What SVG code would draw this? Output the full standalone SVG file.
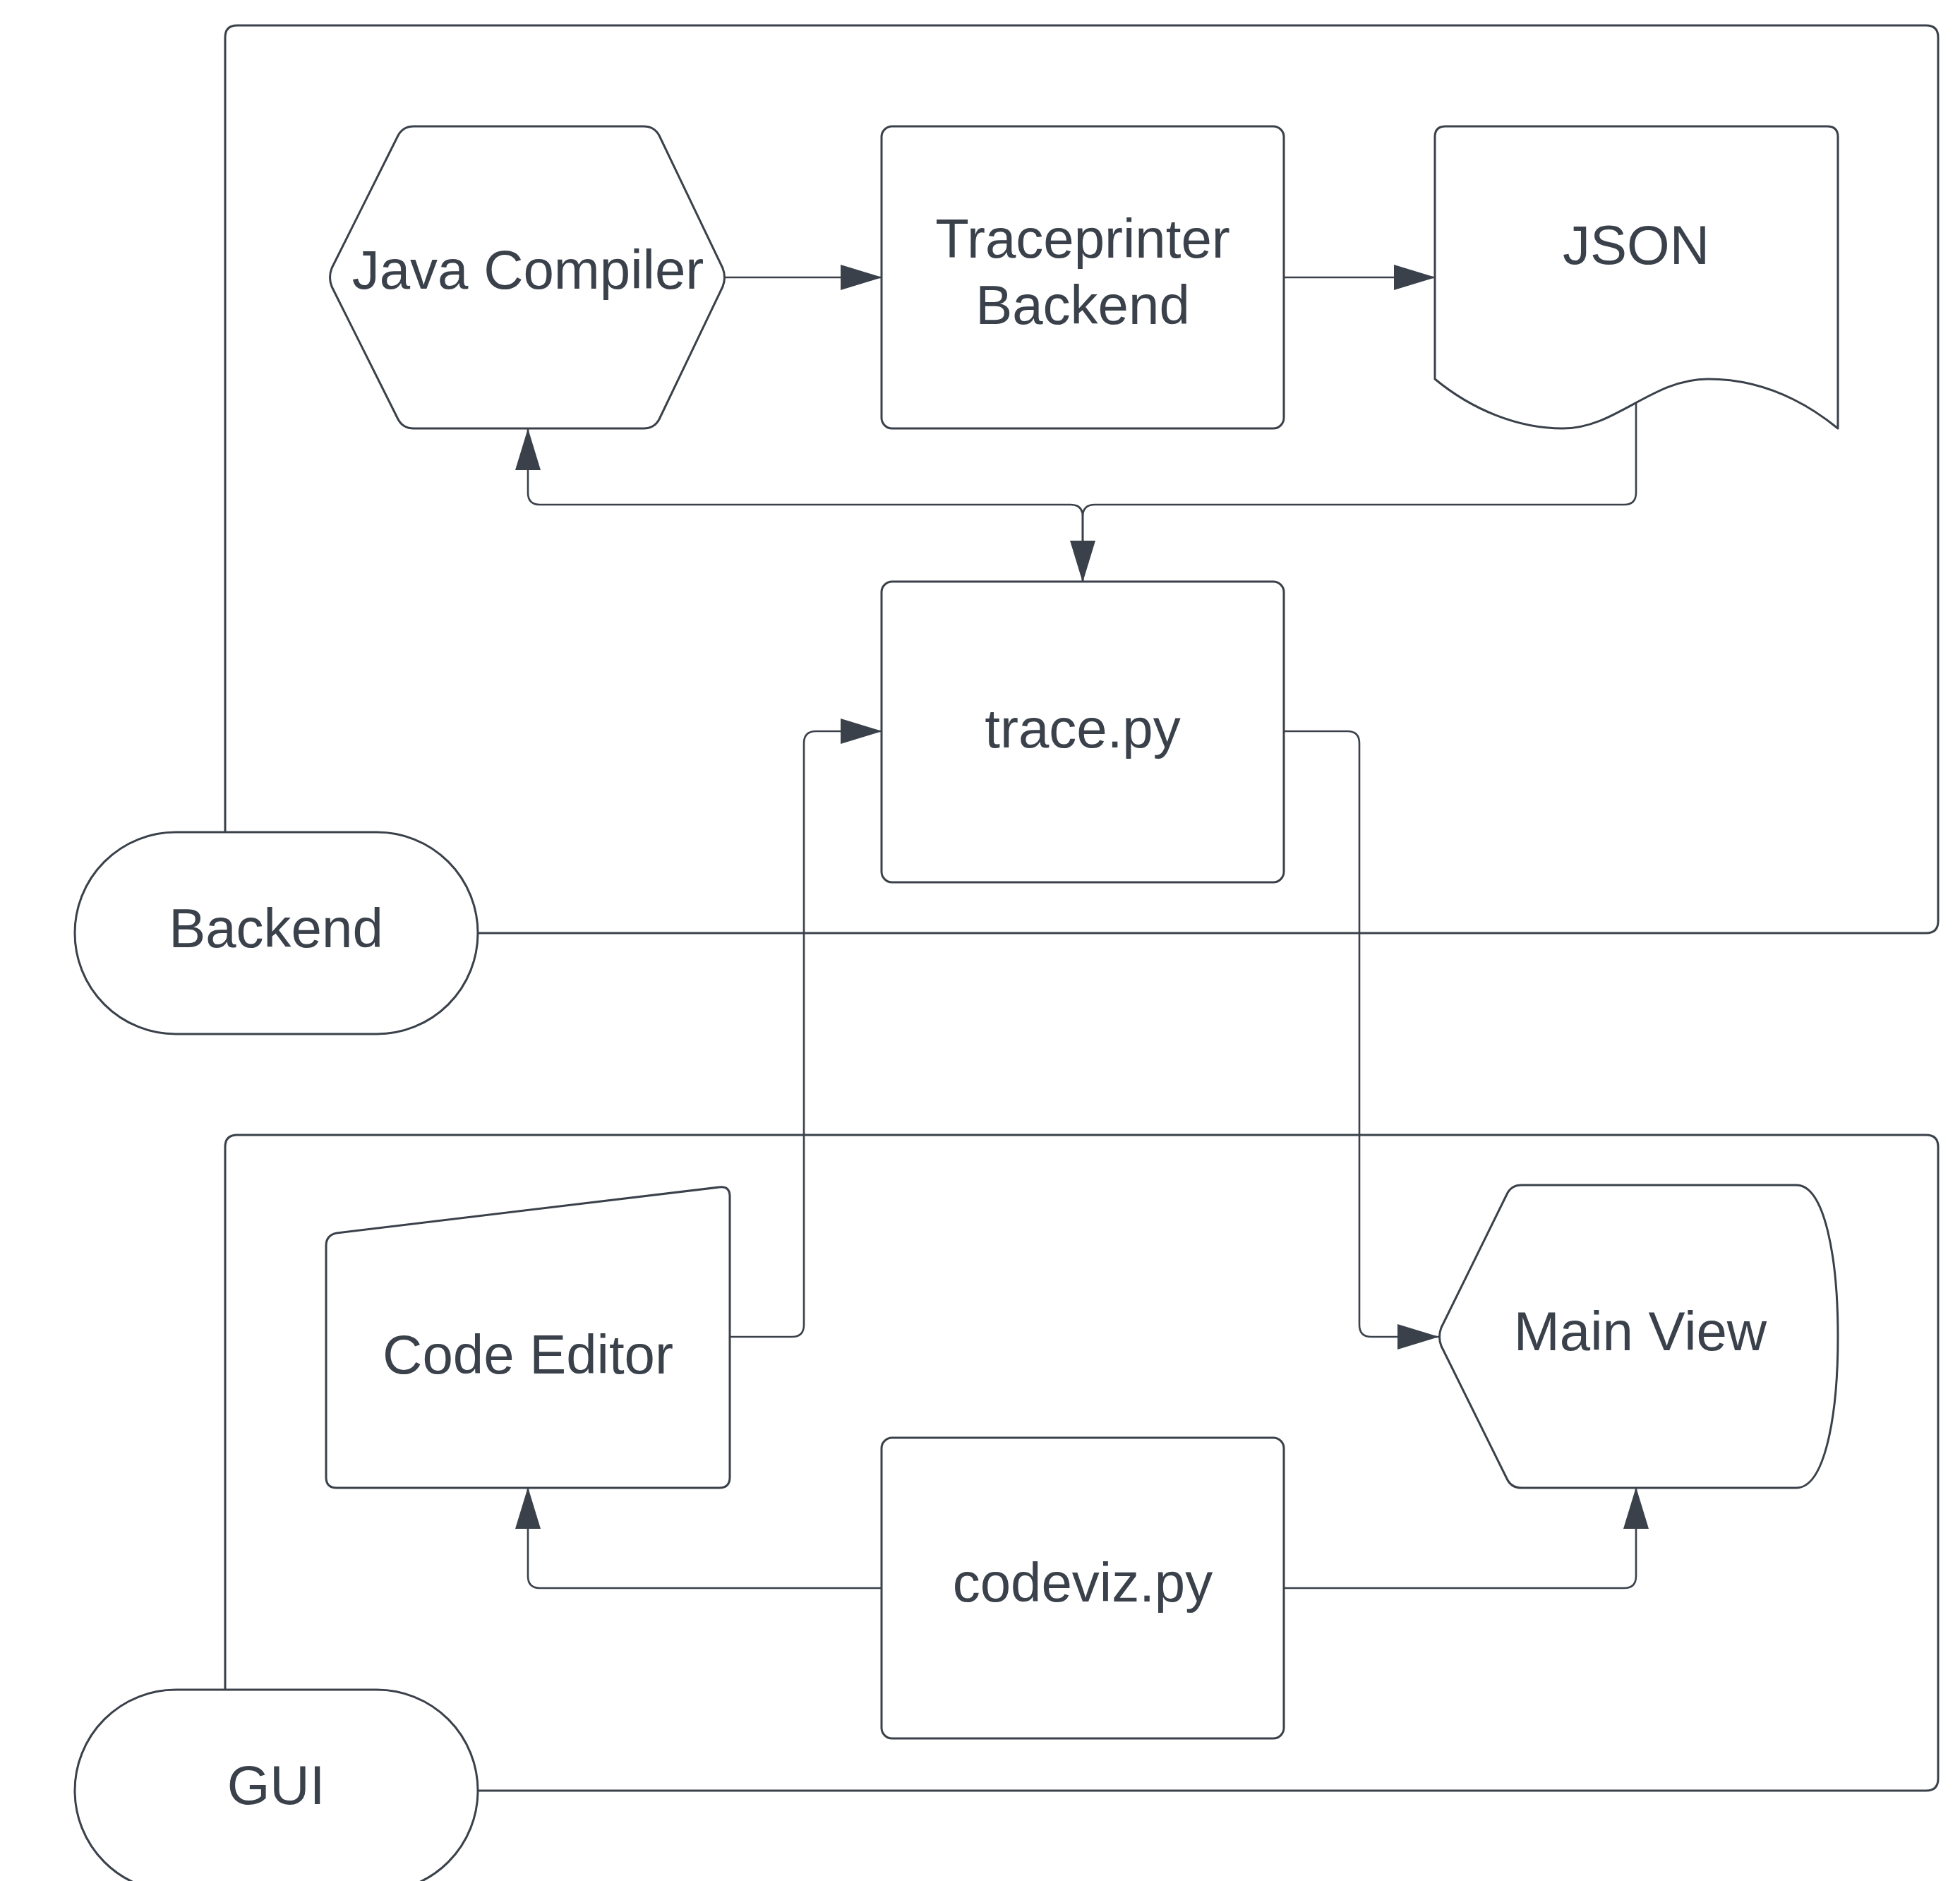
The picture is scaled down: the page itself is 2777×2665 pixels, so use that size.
<svg xmlns="http://www.w3.org/2000/svg" width="2777" height="2665" viewBox="0 0 2777 2665">
<style>
.shape{fill:#ffffff;stroke:#3a414a;stroke-width:3;stroke-linejoin:round}
.cont{fill:none;stroke:#3a414a;stroke-width:3}
.conn{fill:none;stroke:#3a414a;stroke-width:2.6;marker-end:url(#arr)}
text{font-family:"Liberation Sans",Arial,sans-serif;font-size:78px;fill:#3a414a;text-anchor:middle}
</style>
<defs>
<marker id="arr" viewBox="0 0 59 36" refX="58" refY="18" markerWidth="59" markerHeight="36" markerUnits="userSpaceOnUse" orient="auto">
<path d="M0,0 L59,18 L0,36 Z" fill="#3a414a"/>
</marker>
</defs>
<rect width="2777" height="2665" fill="#ffffff"/>
<g id="containers">
<path class="cont" d="M319,1179 L319,53 Q319,36 336,36 L2729,36 Q2746,36 2746,53 L2746,1305 Q2746,1322 2729,1322 L391,1322"/>
<path class="cont" d="M319,2395 L319,1625 Q319,1608 336,1608 L2729,1608 Q2746,1608 2746,1625 L2746,2520 Q2746,2537 2729,2537 L391,2537"/>
</g>
<g id="connectors">
<path class="conn" d="M1027,393 L1249,393"/>
<path class="conn" d="M1819,393 L2033,393"/>
<path class="conn" d="M2318,570 L2318,698 Q2318,715 2301,715 L1551,715 Q1534,715 1534,732 L1534,824"/>
<path class="conn" d="M1534,824 L1534,732 Q1534,715 1517,715 L765,715 Q748,715 748,698 L748,608"/>
<path class="conn" d="M1034,1894 L1122,1894 Q1139,1894 1139,1877 L1139,1053 Q1139,1036 1156,1036 L1249,1036"/>
<path class="conn" d="M1819,1036 L1909,1036 Q1926,1036 1926,1053 L1926,1877 Q1926,1894 1943,1894 L2038,1894"/>
<path class="conn" d="M1249,2250 L765,2250 Q748,2250 748,2233 L748,2108"/>
<path class="conn" d="M1819,2250 L2301,2250 Q2318,2250 2318,2233 L2318,2108"/>
</g>
<g id="node-backend">
<rect class="shape" x="106" y="1179" width="571" height="286" rx="143"/>
<text x="391" y="1342">Backend</text>
</g>
<g id="node-gui">
<rect class="shape" x="106" y="2394" width="571" height="286" rx="143"/>
<text x="391" y="2556">GUI</text>
</g>
<g id="node-java-compiler">
<path class="shape" d="M470,380 L564,192 Q571,179 586,179 L912,179 Q927,179 934,192 L1024,380 Q1029,393 1024,406 L934,594 Q927,607 912,607 L586,607 Q571,607 564,594 L470,406 Q465,393 470,380 Z"/>
<text x="748" y="409">Java Compiler</text>
</g>
<g id="node-traceprinter">
<rect class="shape" x="1249" y="179" width="570" height="428" rx="15"/>
<text x="1534" y="365">Traceprinter</text>
<text x="1534" y="459">Backend</text>
</g>
<g id="node-json">
<path class="shape" d="M2033,537 L2033,194 Q2033,179 2048,179 L2589,179 Q2604,179 2604,194 L2604,607 C2550,563 2490,537 2420,537 C2340,537 2290,607 2214,607 C2150,607 2085,580 2033,537 Z"/>
<text x="2318" y="374">JSON</text>
</g>
<g id="node-trace-py">
<rect class="shape" x="1249" y="824" width="570" height="426" rx="15"/>
<text x="1534" y="1059">trace.py</text>
</g>
<g id="node-code-editor">
<path class="shape" d="M462,1765 Q462,1750 477,1747 L1019,1682 Q1034,1680 1034,1695 L1034,2093 Q1034,2108 1019,2108 L477,2108 Q462,2108 462,2093 Z"/>
<text x="748" y="1946">Code Editor</text>
</g>
<g id="node-main-view">
<path class="shape" d="M2042,1881 L2135,1692 Q2141,1679 2156,1679 L2545,1679 C2585,1679 2604,1780 2604,1894 C2604,2008 2585,2108 2545,2108 L2156,2108 Q2141,2108 2135,2095 L2042,1907 Q2037,1894 2042,1881 Z"/>
<text x="2324" y="1913">Main View</text>
</g>
<g id="node-codeviz">
<rect class="shape" x="1249" y="2037" width="570" height="426" rx="15"/>
<text x="1534" y="2269">codeviz.py</text>
</g>
</svg>
